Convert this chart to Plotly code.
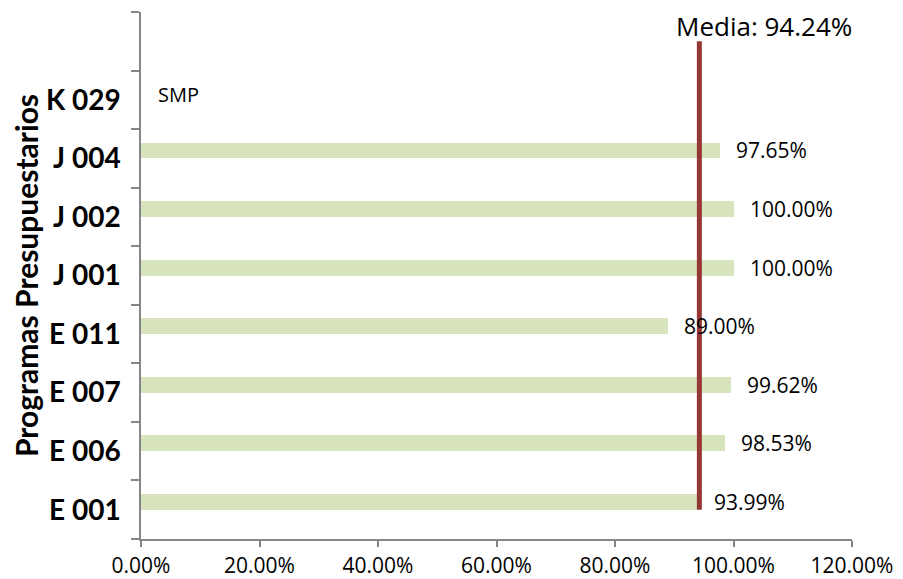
import plotly.graph_objects as go

# categories bottom -> top; top slot is blank in the original
programas = ["E 001", "E 006", "E 007", "E 011", "J 001", "J 002", "J 004", "K 029", " "]
avance = [93.99, 98.53, 99.62, 89.00, 100.00, 100.00, 97.65, None, None]
media = 94.24
x_ticks = [0, 20, 40, 60, 80, 100, 120]
x_ticktext = [f"{v:.2f}%" for v in x_ticks]

BAR = "#d7e4bd"
RED = "#953735"
GRAY = "#868686"
FONT = "Open Sans"

fig = go.Figure()

fig.add_trace(go.Bar(
    y=programas, x=avance, orientation="h",
    marker=dict(color=BAR, line=dict(width=0)),
    width=0.27, offset=0,
    showlegend=False,
))

# value labels, aligned with bar centre
for cat, v in zip(programas, avance):
    if v is None:
        continue
    fig.add_annotation(
        x=v, y=cat, text=f"{v:.2f}%", showarrow=False,
        xanchor="left", yanchor="middle", xshift=14, yshift=8,
        font=dict(family=FONT, size=21, color="#000000"),
    )

# mean line
fig.add_trace(go.Scatter(
    x=[media, media], y=[programas[0], programas[-1]],
    mode="lines", line=dict(color=RED, width=5),
    showlegend=False, cliponaxis=False,
))

fig.add_annotation(
    x=media, y=programas[-1], text=f"Media: {media:.2f}%",
    showarrow=False, xanchor="left", yanchor="middle", xshift=-24, yshift=15,
    borderpad=0,
    font=dict(family=FONT, size=26, color="#000000"),
)
fig.add_annotation(
    x=0, y="K 029", text="SMP", showarrow=False,
    xanchor="left", yanchor="middle", xshift=15, yshift=5,
    font=dict(family=FONT, size=20, color="#000000"),
)

# page body adds an 8px offset, so margins are reduced by 8
fig.update_layout(
    width=903, height=579,
    margin=dict(l=133, r=59, t=4, b=48),
    plot_bgcolor="white", paper_bgcolor="white",
    bargap=0,
)
fig.update_xaxes(
    range=[0, 120], tickvals=x_ticks, ticktext=x_ticktext,
    showgrid=False, zeroline=False, showline=True, linecolor=GRAY, linewidth=1.5,
    ticks="outside", ticklen=6, tickcolor=GRAY, tickwidth=1.5,
    ticklabelstandoff=1, automargin=False,
    tickfont=dict(family=FONT, size=21, color="#000000"),
)
fig.update_yaxes(
    type="category", categoryorder="array", categoryarray=programas,
    range=[-0.5, len(programas) - 0.5],
    tickson="boundaries", ticks="outside", ticklen=8, tickcolor=GRAY, tickwidth=1.5,
    showgrid=False, zeroline=False, showline=True, linecolor=GRAY, linewidth=1.5,
    ticklabelstandoff=13, automargin=False,
    tickfont=dict(family="Lato", size=28, color="#000000", weight="bold"),
    title=dict(text="Programas Presupuestarios", standoff=0,
               font=dict(family="Lato", size=30, color="#000000", weight="bold")),
)

fig.write_html("out.html")
